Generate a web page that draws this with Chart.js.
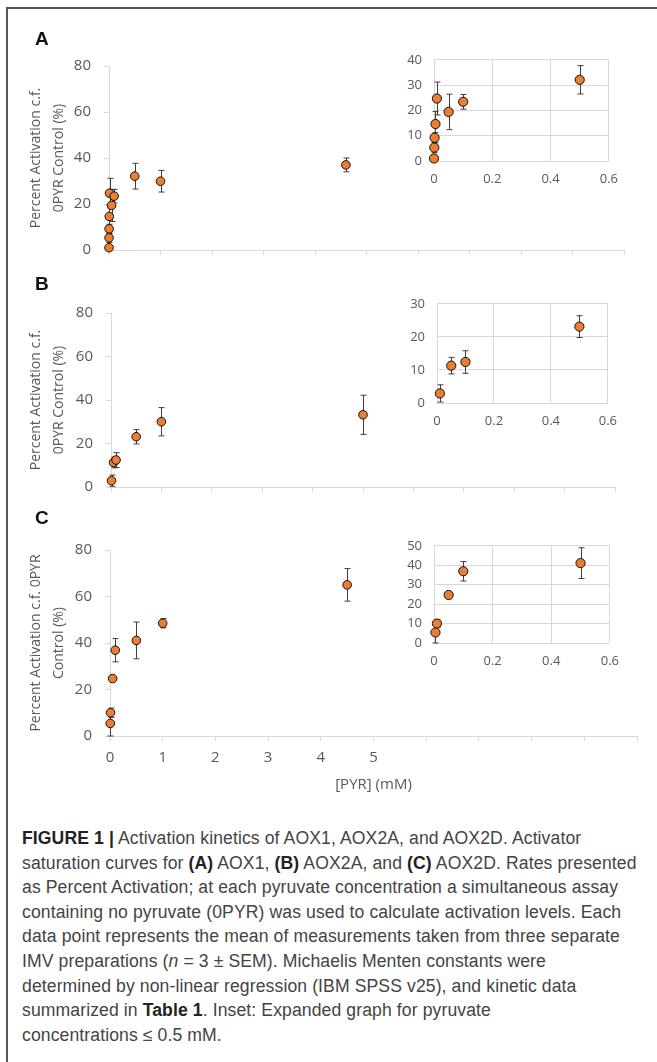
<!DOCTYPE html>
<html>
<head>
<meta charset="utf-8">
<script src="https://cdn.jsdelivr.net/npm/chart.js@4.4.1/dist/chart.umd.min.js"></script>
<style>
  html, body { margin: 0; padding: 0; background: #fff; }
  #fig { position: relative; width: 657px; height: 1062px; overflow: hidden; }
  #frame { position: absolute; left: 6px; top: 7px; width: 700px; height: 1100px;
           border-top: 2px solid #555; border-left: 2px solid #555; }
  canvas { position: absolute; }
  .panel { position: absolute; left: 35px; font: bold 19px "Liberation Sans", Arial, sans-serif;
           line-height: 19px; color: #111; }
  #caption { position: absolute; left: 22px; top: 826px; font: 17.6px "Liberation Sans", Arial, sans-serif;
             line-height: 24.6px; color: #444; white-space: nowrap; letter-spacing: 0.1px; }
  #caption b { color: #222; }
</style>
</head>
<body>
<div id="fig">
  <div id="frame"></div>
  <canvas id="mainA" width="634" height="228" style="left:0px;top:44px"></canvas>
  <canvas id="mainB" width="625" height="218" style="left:0px;top:291px"></canvas>
  <canvas id="mainC" width="647" height="268" style="left:0px;top:528px"></canvas>
  <canvas id="insetA" width="234" height="151" style="left:394px;top:40px"></canvas>
  <canvas id="insetB" width="230" height="149" style="left:397px;top:284px"></canvas>
  <canvas id="insetC" width="235" height="147" style="left:394px;top:526px"></canvas>
  <div class="panel" style="top:28.5px">A</div>
  <div class="panel" style="top:273.5px">B</div>
  <div class="panel" style="top:507.5px">C</div>
  <div id="caption">
    <b>FIGURE 1 |</b> Activation kinetics of AOX1, AOX2A, and AOX2D. Activator<br>
    saturation curves for <b>(A)</b> AOX1, <b>(B)</b> AOX2A, and <b>(C)</b> AOX2D. Rates presented<br>
    as Percent Activation; at each pyruvate concentration a simultaneous assay<br>
    containing no pyruvate (0PYR) was used to calculate activation levels. Each<br>
    data point represents the mean of measurements taken from three separate<br>
    IMV preparations (<i>n</i> = 3 &plusmn; SEM). Michaelis Menten constants were<br>
    determined by non-linear regression (IBM SPSS v25), and kinetic data<br>
    summarized in <b>Table 1</b>. Inset: Expanded graph for pyruvate<br>
    concentrations &le; 0.5 mM.
  </div>
</div>
<script>
// AOX1 (panel A): pyruvate mM, percent activation, SEM
const pyrA = [0, 0.001, 0.002, 0.005, 0.01, 0.05, 0.1, 0.5, 1, 4.6];
const actA = [1.0, 5.3, 9.2, 14.6, 24.7, 19.4, 23.4, 32.1, 29.9, 37.0];
const semA = [1.0, 2.0, 2.0, 5.0, 6.5, 7.0, 2.9, 5.6, 4.7, 3.0];

// AOX2A (panel B)
const pyrB = [0.01, 0.05, 0.1, 0.5, 1, 5];
const actB = [2.9, 11.3, 12.4, 23.1, 30.0, 33.2];
const semB = [2.6, 2.5, 3.4, 3.3, 6.5, 9.0];

// AOX2D (panel C)
const pyrC = [0.005, 0.01, 0.05, 0.1, 0.5, 1, 4.5];
const actC = [5.4, 10.0, 24.7, 36.9, 41.1, 48.5, 65.0];
const semC = [5.4, 2.0, 0.8, 5.0, 7.9, 2.0, 7.0];

// ticks
const mainXTicks = [0, 1, 2, 3, 4, 5, 6, 7, 8, 9, 10];
const mainXLabelMax = 5;
const mainYTicks = [0, 20, 40, 60, 80];
const insetXTicks = [0, 0.2, 0.4, 0.6];
const insetYTicksA = [0, 10, 20, 30, 40];
const insetYTicksB = [0, 10, 20, 30];
const insetYTicksC = [0, 10, 20, 30, 40, 50];
const insetLimit = 0.5;

const orange = '#ED7D31';
const tickGray = '#595959';
const axisGray = '#d9d9d9';
const fontFam = '"Open Sans", "DejaVu Sans", sans-serif';

function points(xs, ys) {
  return xs.map((x, i) => ({ x: x, y: ys[i] }));
}

// draws +/- SEM bars from dataset.errors using the chart scales
const errorBars = {
  id: 'errorBars',
  beforeDatasetsDraw(chart) {
    const ctx = chart.ctx;
    const xs = chart.scales.x, ys = chart.scales.y;
    chart.data.datasets.forEach(ds => {
      if (!ds.errors) return;
      ctx.save();
      ctx.strokeStyle = '#3f3f3f';
      ctx.lineWidth = 1;
      ds.data.forEach((p, i) => {
        const e = ds.errors[i];
        if (!e) return;
        const px = Math.round(xs.getPixelForValue(p.x)) + 0.5;
        const top = ys.getPixelForValue(p.y + e);
        const bot = ys.getPixelForValue(Math.max(p.y - e, ys.min));
        ctx.beginPath();
        ctx.moveTo(px, top); ctx.lineTo(px, bot);
        ctx.moveTo(px - 3, top); ctx.lineTo(px + 3, top);
        if (p.y - e >= ys.min) { ctx.moveTo(px - 3, bot); ctx.lineTo(px + 3, bot); }
        ctx.stroke();
      });
      ctx.restore();
    });
  }
};

function makeMain(id, xs, ys, errs, yTitle, showX) {
  return new Chart(document.getElementById(id), {
    type: 'scatter',
    data: {
      datasets: [{
        data: points(xs, ys),
        errors: errs,
        clip: false,
        backgroundColor: orange,
        borderColor: '#111',
        borderWidth: 1,
        pointRadius: 4.3,
        pointHoverRadius: 4.3
      }]
    },
    options: {
      responsive: false,
      animation: false,
      devicePixelRatio: 1,
      layout: { padding: { top: 10, right: 10, left: 0, bottom: 0 } },
      plugins: { legend: { display: false }, tooltip: { enabled: false } },
      scales: {
        x: {
          type: 'linear',
          min: 0,
          max: 10,
          afterBuildTicks: s => { s.ticks = mainXTicks.map(v => ({ value: v })); },
          afterFit: s => { s.height = showX ? 60 : 10; },
          grid: { drawOnChartArea: false, color: axisGray, tickLength: 5 },
          border: { color: axisGray },
          ticks: {
            autoSkip: false,
            maxRotation: 0,
            padding: 8,
            color: tickGray,
            font: { family: fontFam, size: 15 },
            callback: v => (showX && v <= mainXLabelMax) ? v : ''
          },
          title: {
            display: showX,
            text: '[PYR] (mM)',
            color: tickGray,
            font: { family: fontFam, size: 15 },
            padding: { top: 0, bottom: 2 }
          }
        },
        y: {
          min: 0,
          max: 80,
          afterBuildTicks: s => { s.ticks = mainYTicks.map(v => ({ value: v })); },
          afterFit: s => { s.width = document.getElementById(id).dataset.yw * 1; },
          grid: { drawOnChartArea: false, color: axisGray, tickLength: 5 },
          border: { color: axisGray },
          ticks: { padding: 13, color: tickGray, font: { family: fontFam, size: 15 } },
          title: {
            display: true,
            text: yTitle,
            color: tickGray,
            font: { family: fontFam, size: 14, lineHeight: 1.65 },
            padding: { top: 24.5, bottom: 0 }
          }
        }
      }
    },
    plugins: [errorBars]
  });
}

function makeInset(id, xs, ys, errs, yTicks) {
  const keep = xs.map((x, i) => i).filter(i => xs[i] <= insetLimit);
  return new Chart(document.getElementById(id), {
    type: 'scatter',
    data: {
      datasets: [{
        data: points(keep.map(i => xs[i]), keep.map(i => ys[i])),
        errors: keep.map(i => errs[i]),
        clip: false,
        backgroundColor: orange,
        borderColor: '#111',
        borderWidth: 1,
        pointRadius: 4.6,
        pointHoverRadius: 4.6
      }]
    },
    options: {
      responsive: false,
      animation: false,
      devicePixelRatio: 1,
      layout: { padding: { top: 8, right: 12, left: 0, bottom: 0 } },
      plugins: { legend: { display: false }, tooltip: { enabled: false } },
      scales: {
        x: {
          type: 'linear',
          min: 0,
          max: insetXTicks[insetXTicks.length - 1],
          afterBuildTicks: s => { s.ticks = insetXTicks.map(v => ({ value: v })); },
          afterFit: s => { s.height = 30; },
          grid: { color: axisGray, drawTicks: false },
          border: { color: axisGray },
          ticks: { autoSkip: false, maxRotation: 0, padding: 10, color: tickGray,
                   font: { family: fontFam, size: 13 } }
        },
        y: {
          min: 0,
          max: yTicks[yTicks.length - 1],
          afterBuildTicks: s => { s.ticks = yTicks.map(v => ({ value: v })); },
          afterFit: s => { s.width = 40; },
          grid: { color: axisGray, drawTicks: false },
          border: { color: axisGray },
          ticks: { padding: 12, color: tickGray, font: { family: fontFam, size: 13 } }
        }
      }
    },
    plugins: [errorBars]
  });
}

document.getElementById('mainA').dataset.yw = 109;
document.getElementById('mainB').dataset.yw = 111;
document.getElementById('mainC').dataset.yw = 110;

const titleAB = ['Percent Activation c.f.', '0PYR Control (%)'];
const titleC = ['Percent Activation c.f. 0PYR', 'Control (%)'];

makeMain('mainA', pyrA, actA, semA, titleAB, false);
makeMain('mainB', pyrB, actB, semB, titleAB, false);
makeMain('mainC', pyrC, actC, semC, titleC, true);
makeInset('insetA', pyrA, actA, semA, insetYTicksA);
makeInset('insetB', pyrB, actB, semB, insetYTicksB);
makeInset('insetC', pyrC, actC, semC, insetYTicksC);
</script>
</body>
</html>
